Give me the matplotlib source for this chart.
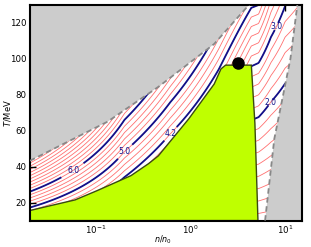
import numpy as np
import matplotlib
matplotlib.use("Agg")
import matplotlib.pyplot as plt
from matplotlib.ticker import NullLocator

# ---- data ----
# isentrope model s/n = g + a*T + c*T^3, coefficients at sample densities
node_logn = [-1.70, -0.70, -0.215, 0.30, 0.643, 0.72, 0.85, 1.00, 1.20]
node_g    = [3.05, 2.27, 1.55, 0.90, 0.0, 0.0, 0.0, 0.0, 0.0]
node_a    = [0.113, 0.0565, 0.0455, 0.0350, 0.0295, 0.0286, 0.0259, 0.0232, 0.0210]
node_c    = [0.0, 0.0, 0.0, 0.0, 1.95e-7, 2.2e-7, 7e-8, 0.0, 0.0]

red_levels = [0.2, 0.4, 0.6, 0.8, 1.0, 1.2, 1.4, 1.6, 1.8, 2.0, 2.2, 2.4, 2.6, 2.8,
              3.0, 3.2, 3.4, 3.6, 3.8, 4.0, 4.2, 4.4, 4.6, 4.8, 5.0, 5.2, 5.4, 5.6,
              5.8, 6.0, 6.2, 6.4, 6.6, 6.8, 7.0, 7.2, 7.4, 7.6, 7.8, 8.0, 8.2, 8.4,
              8.6, 8.8, 9.0]
blue_levels = [2.0, 3.0, 4.2, 5.0, 6.0]
label_pos = [(0.049, 38.0), (0.20, 48.3), (0.61, 58.3), (8.1, 118.3), (7.0, 76.3)]

# coexistence (green) region boundary
green_n = [0.02, 0.03, 0.06, 0.103, 0.234, 0.36, 0.456, 0.96, 1.78, 2.1, 2.35, 4.4, 4.8, 5.17, 5.17, 0.02]
green_T = [15.6, 17.8, 21.5, 26.7, 35.0, 41.7, 46.0, 66.7, 86.0, 94.4, 96.5, 96.5, 64.0, 10.0, 10.0, 10.0]

# upper-left excluded region boundary (dashed)
upper_n = [0.02, 0.132, 0.456, 1.78, 4.24]
upper_T = [43.3, 65.0, 84.4, 108.3, 130.6]

# right excluded region boundary (dashed)
right_n = [6.15, 7.7, 11.4, 13.5]
right_T = [10.0, 55.5, 100.0, 130.0]

cp_n, cp_T = [3.15], [97.8]

# ---- figure ----
fig = plt.figure(figsize=(3.11, 2.47), dpi=100)
ax = fig.add_axes([0.0965, 0.107, 0.8735, 0.873])

lg = np.linspace(np.log10(0.02), np.log10(15), 400)
TT = np.linspace(10, 130, 400)
LG, TG = np.meshgrid(lg, TT)
g = np.interp(LG, node_logn, node_g)
a = np.interp(LG, node_logn, node_a)
c = np.interp(LG, node_logn, node_c)
S = g + a * TG + c * TG ** 3
N = 10 ** LG

ax.contour(N, TG, S, levels=red_levels, colors='#ff7070', linewidths=0.6, zorder=1)
cb = ax.contour(N, TG, S, levels=blue_levels, colors='#10108a', linewidths=1.3, zorder=1.5)
labs = ax.clabel(cb, fmt='%.1f', fontsize=5.5, inline=True, inline_spacing=1,
                 manual=label_pos, colors='#10108a')
for t in labs:
    t.set_rotation(0)

ax.fill(green_n, green_T, color='#bfff00', ec='#3a4a10', lw=1.0, zorder=2)
ax.fill(upper_n + [0.02], upper_T + [130.6], color='#cccccc', lw=0, zorder=2)
ax.fill(right_n + [15, 15], right_T + [130, 10], color='#cccccc', lw=0, zorder=2)
ax.plot(upper_n, upper_T, ls='--', color='#888888', lw=1.3, dashes=(3, 2), zorder=3)
ax.plot(right_n, right_T, ls='--', color='#888888', lw=1.3, dashes=(3, 2), zorder=3)
ax.plot(cp_n, cp_T, 'o', color='black', ms=8, zorder=4)

ax.set_xscale('log')
ax.set_xlim(0.02, 15)
ax.set_ylim(10, 130)
ax.set_yticks([20, 40, 60, 80, 100, 120])
ax.xaxis.set_minor_locator(NullLocator())
ax.tick_params(direction='in', top=True, right=True, labelsize=6.2, length=4, width=1, pad=2.5)
for sp in ax.spines.values():
    sp.set_linewidth(1.5)
ax.set_xlabel('$n/n_0$', fontsize=5.8)
ax.set_ylabel('$T$/MeV', fontsize=6)
ax.xaxis.set_label_coords(0.49, -0.062, transform=ax.transAxes)
ax.yaxis.set_label_coords(-0.082, 0.5, transform=ax.transAxes)
ax.xaxis.label.set_va('top')
ax.yaxis.label.set_va('center')

fig.savefig('out.png', dpi=100)
